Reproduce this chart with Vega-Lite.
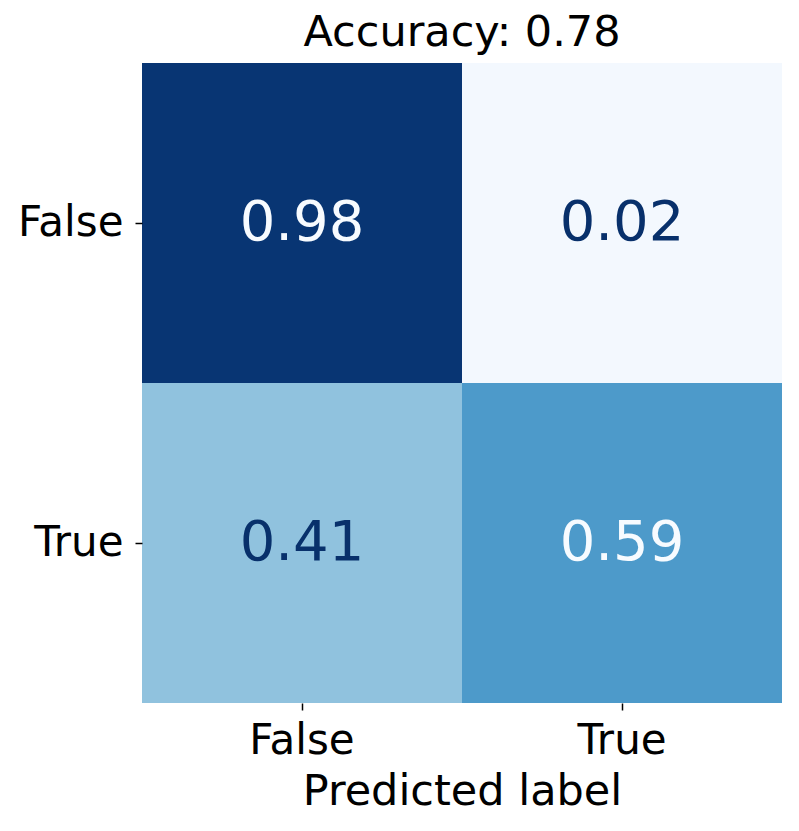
{
  "$schema": "https://vega.github.io/schema/vega-lite/v6.json",
  "width": 640,
  "height": 640,
  "autosize": {"type": "none"},
  "padding": {"left": 142, "top": 63, "right": 17, "bottom": 128},
  "background": "white",
  "config": {"view": {"stroke": null}},
  "title": {"text": "Accuracy: 0.78", "font": "DejaVu Sans", "fontSize": 43, "fontWeight": "normal", "color": "black", "offset": 8},
  "data": {"values": [
    {"actual": "False", "predicted": "False", "value": 0.98},
    {"actual": "False", "predicted": "True", "value": 0.02},
    {"actual": "True", "predicted": "False", "value": 0.41},
    {"actual": "True", "predicted": "True", "value": 0.59}
  ]},
  "encoding": {
    "x": {"field": "predicted", "type": "nominal", "sort": ["False", "True"], "title": "Predicted label",
      "scale": {"paddingInner": 0, "paddingOuter": 0},
      "axis": {"domain": false, "grid": false, "labelAngle": 0, "tickColor": "black", "tickSize": 7, "tickWidth": 1.5,
        "labelFont": "DejaVu Sans", "labelFontSize": 42, "labelColor": "black", "labelPadding": 10,
        "titleFont": "DejaVu Sans", "titleFontSize": 43, "titleFontWeight": "normal", "titleColor": "black", "titlePadding": 9}},
    "y": {"field": "actual", "type": "nominal", "sort": ["False", "True"], "title": null,
      "scale": {"paddingInner": 0, "paddingOuter": 0},
      "axis": {"domain": false, "grid": false, "tickColor": "black", "tickSize": 7, "tickWidth": 1.5,
        "labelFont": "DejaVu Sans", "labelFontSize": 42, "labelColor": "black", "labelPadding": 12}}
  },
  "layer": [
    {"mark": {"type": "rect"},
     "encoding": {"color": {"field": "value", "type": "quantitative", "legend": null,
       "scale": {"domain": [0, 0.125, 0.25, 0.375, 0.5, 0.625, 0.75, 0.875, 1],
         "range": ["#f7fbff", "#deebf7", "#c6dbef", "#9ecae1", "#6baed6", "#4292c6", "#2171b5", "#08519c", "#08306b"],
         "interpolate": "rgb"}}}},
    {"mark": {"type": "text", "font": "DejaVu Sans", "fontSize": 56},
     "encoding": {"text": {"field": "value", "type": "quantitative", "format": ".2f"},
       "color": {"condition": {"test": "datum.value > 0.5", "value": "#f7fbff"}, "value": "#08306b"}}}
  ]
}
